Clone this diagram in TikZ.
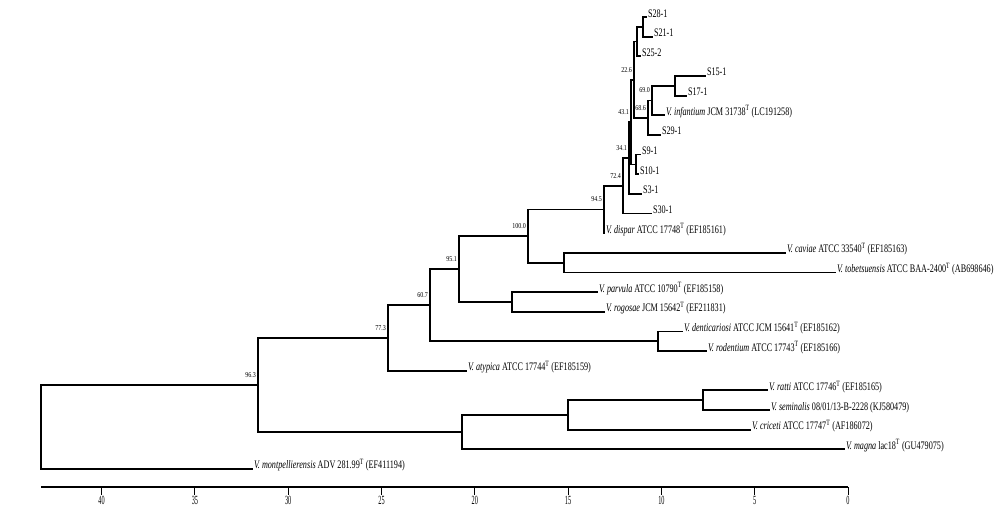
\documentclass[tikz,border=0pt]{standalone}
\usepackage{fontspec}
\usetikzlibrary{calc}
\setmainfont{Liberation Serif}[FakeStretch=0.71]
\newfontfamily\bootfont{Liberation Serif}[FakeStretch=0.8]
\newfontfamily\axisfont{Liberation Serif}[FakeStretch=0.5]
\newcommand{\Tsup}{\textsuperscript{T}}
\begin{document}
\begin{tikzpicture}[x=1pt,y=-1pt,
  br/.style={line width=1.8pt, line join=miter},
  leaf/.style={anchor=base west, inner sep=0pt, inner xsep=0.8pt, font=\fontsize{11.5}{13}\selectfont},
  boot/.style={anchor=east, inner sep=0pt, font=\bootfont\fontsize{7.5}{8}\selectfont, xshift=-2pt, yshift=10pt},
  axl/.style={line width=2.2pt},
  axtick/.style={line width=1pt},
  ticklab/.style={anchor=north, inner sep=0pt, font=\axisfont\fontsize{12.5}{13}\selectfont}]
\useasboundingbox (0,0) rectangle (1000,530);

% ---- internal nodes
\coordinate (root) at (41,427);
\coordinate (n16) at (258,385);
\coordinate (n15) at (388,337.9);
\coordinate (n14) at (430,305.1);
\coordinate (n13) at (459,269);
\coordinate (n12) at (528,236);
\coordinate (n11) at (604,209.4);
\coordinate (n10) at (623,185.7);
\coordinate (n9) at (629,157.9);
\coordinate (n8) at (631,122);
\coordinate (n7) at (636,164.4);
\coordinate (n6) at (634,79.6);
\coordinate (n2) at (637,41.55);
\coordinate (n1) at (643,26.8);
\coordinate (n5) at (648,117.7);
\coordinate (n4) at (652,100.5);
\coordinate (n3) at (675,85.8);
\coordinate (nc) at (564,262.6);
\coordinate (np) at (512,301.9);
\coordinate (nd) at (658,341.2);
\coordinate (nm) at (462,432.1);
\coordinate (nrc) at (568,414.9);
\coordinate (nr) at (703,400.2);

% ---- leaves
\node[leaf] (s28) at (647,17) {S28-1};
\node[leaf] (s21) at (653,36.65) {S21-1};
\node[leaf] (s25) at (641,56.3) {S25-2};
\node[leaf] (s15) at (706,75.95) {S15-1};
\node[leaf] (s17) at (687,95.6) {S17-1};
\node[leaf] (inf) at (665,115.25) {\textit{V. infantium} JCM 31738\Tsup{} (LC191258)};
\node[leaf] (s29) at (661,134.9) {S29-1};
\node[leaf] (s9) at (641,154.55) {S9-1};
\node[leaf] (s10) at (639,174.2) {S10-1};
\node[leaf] (s3) at (642,193.85) {S3-1};
\node[leaf] (s30) at (652,213.5) {S30-1};
\node[leaf] (dis) at (605,233.15) {\textit{V. dispar} ATCC 17748\Tsup{} (EF185161)};
\node[leaf] (cav) at (786,252.8) {\textit{V. caviae} ATCC 33540\Tsup{} (EF185163)};
\node[leaf] (tob) at (836,272.45) {\textit{V. tobetsuensis} ATCC BAA-2400\Tsup{} (AB698646)};
\node[leaf] (par) at (598,292.1) {\textit{V. parvula} ATCC 10790\Tsup{} (EF185158)};
\node[leaf] (rog) at (605,311.75) {\textit{V. rogosae} JCM 15642\Tsup{} (EF211831)};
\node[leaf] (den) at (683,331.4) {\textit{V. denticariosi} ATCC JCM 15641\Tsup{} (EF185162)};
\node[leaf] (rod) at (707,351.05) {\textit{V. rodentium} ATCC 17743\Tsup{} (EF185166)};
\node[leaf] (aty) at (467,370.7) {\textit{V. atypica} ATCC 17744\Tsup{} (EF185159)};
\node[leaf] (rat) at (768,390.35) {\textit{V. ratti} ATCC 17746\Tsup{} (EF185165)};
\node[leaf] (sem) at (770,410) {\textit{V. seminalis} 08/01/13-B-2228 (KJ580479)};
\node[leaf] (cri) at (751,429.65) {\textit{V. criceti} ATCC 17747\Tsup{} (AF186072)};
\node[leaf] (mag) at (845,449.3) {\textit{V. magna} lac18\Tsup{} (GU479075)};
\node[leaf] (mon) at (253,468.95) {\textit{V. montpellierensis} ADV 281.99\Tsup{} (EF411194)};

% ---- branches
\draw[br] (root) |- (n16); \draw[br] (root) |- (mon.base west);
\draw[br] (n16) |- (n15); \draw[br] (n16) |- (nm);
\draw[br] (n15) |- (n14); \draw[br] (n15) |- (aty.base west);
\draw[br] (n14) |- (n13); \draw[br] (n14) |- (nd);
\draw[br] (n13) |- (n12); \draw[br] (n13) |- (np);
\draw[br] (n12) |- (n11); \draw[br] (n12) |- (nc);
\draw[br] (n11) |- (n10); \draw[br] (n11) |- (dis.base west);
\draw[br] (n10) |- (n9); \draw[br] (n10) |- (s30.base west);
\draw[br] (n9) |- (n8); \draw[br] (n9) |- (s3.base west);
\draw[br] (n8) |- (n6); \draw[br] (n8) |- (n7);
\draw[br] (n7) |- (s9.base west); \draw[br] (n7) |- (s10.base west);
\draw[br] (n6) |- (n2); \draw[br] (n6) |- (n5);
\draw[br] (n2) |- (n1); \draw[br] (n2) |- (s25.base west);
\draw[br] (n1) |- (s28.base west); \draw[br] (n1) |- (s21.base west);
\draw[br] (n5) |- (n4); \draw[br] (n5) |- (s29.base west);
\draw[br] (n4) |- (n3); \draw[br] (n4) |- (inf.base west);
\draw[br] (n3) |- (s15.base west); \draw[br] (n3) |- (s17.base west);
\draw[br] (nc) |- (cav.base west); \draw[br] (nc) |- (tob.base west);
\draw[br] (np) |- (par.base west); \draw[br] (np) |- (rog.base west);
\draw[br] (nd) |- (den.base west); \draw[br] (nd) |- (rod.base west);
\draw[br] (nm) |- (nrc); \draw[br] (nm) |- (mag.base west);
\draw[br] (nrc) |- (nr); \draw[br] (nrc) |- (cri.base west);
\draw[br] (nr) |- (rat.base west); \draw[br] (nr) |- (sem.base west);

% ---- bootstrap values
\node[boot] (b16) at (n16) {96.3};
\node[boot] (b15) at (n15) {77.3};
\node[boot] (b14) at (n14) {60.7};
\node[boot] (b13) at (n13) {95.1};
\node[boot] (b12) at (n12) {100.0};
\node[boot] (b11) at (n11) {94.5};
\node[boot] (b10) at (n10) {72.4};
\node[boot] (b9) at (n9) {34.1};
\node[boot] (b8) at (n8) {43.1};
\node[boot] (b6) at (n6) {22.6};
\node[boot] (b4) at (n4) {69.0};
\node[boot] (b5) at (n5) {68.6};

% ---- scale axis
\coordinate (ax0) at (41,487);
\coordinate (ax1) at (848,487);
\draw[axl] (ax0) -- (ax1);
\foreach \k in {0,...,8}{
  \pgfmathsetmacro{\lab}{int(5*\k)}
  \coordinate (tk\k) at ({848-93.3*\k},487);
  \draw[axtick] (tk\k) -- ++(0,8);
  \node[ticklab] (tl\k) at ($(tk\k)+(0,9)$) {\lab};
}
\end{tikzpicture}
\end{document}
